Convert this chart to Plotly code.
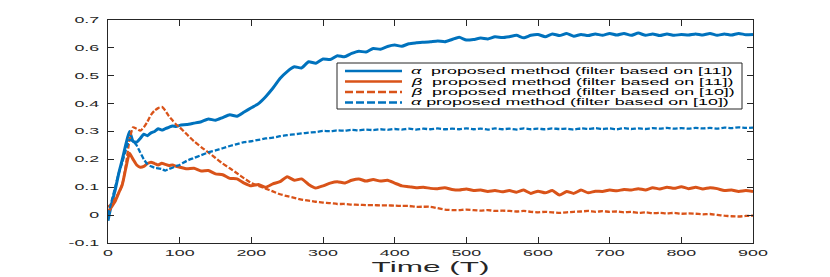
import plotly.graph_objects as go

# ---- data ----
T = list(range(0, 100, 5)) + list(range(100, 901, 10))

alpha_11 = [
    -0.02, 0.04, 0.09, 0.15, 0.20, 0.255, 0.30, 0.265, 0.262, 0.275,
    0.29, 0.285, 0.295, 0.30, 0.31, 0.305, 0.31, 0.315, 0.32, 0.318,
    0.322, 0.325, 0.33, 0.335, 0.345, 0.34, 0.35, 0.36, 0.355, 0.37,
    0.385, 0.40, 0.425, 0.455, 0.49, 0.515, 0.532, 0.528, 0.55, 0.545,
    0.56, 0.558, 0.572, 0.568, 0.58, 0.588, 0.585, 0.598, 0.595, 0.605,
    0.61, 0.606, 0.615, 0.618, 0.62, 0.622, 0.625, 0.622, 0.63, 0.638,
    0.628, 0.63, 0.635, 0.632, 0.64, 0.637, 0.64, 0.645, 0.636, 0.645,
    0.648, 0.64, 0.65, 0.644, 0.652, 0.642, 0.648, 0.644, 0.65, 0.645,
    0.652, 0.646, 0.652, 0.645, 0.653, 0.645, 0.65, 0.644, 0.65, 0.645,
    0.648, 0.646, 0.65, 0.646, 0.652, 0.645, 0.65, 0.646, 0.652, 0.647,
    0.648,
]

beta_11 = [
    0.01, 0.03, 0.05, 0.08, 0.11, 0.17, 0.222, 0.20, 0.18, 0.172,
    0.175, 0.185, 0.19, 0.185, 0.18, 0.186, 0.182, 0.178, 0.18, 0.175,
    0.172, 0.166, 0.168, 0.158, 0.16, 0.148, 0.145, 0.132, 0.13, 0.115,
    0.105, 0.11, 0.10, 0.112, 0.12, 0.138, 0.125, 0.13, 0.11, 0.097,
    0.105, 0.115, 0.12, 0.115, 0.125, 0.13, 0.122, 0.128, 0.122, 0.125,
    0.115, 0.105, 0.102, 0.098, 0.10, 0.096, 0.095, 0.098, 0.092, 0.09,
    0.094, 0.088, 0.09, 0.085, 0.088, 0.084, 0.088, 0.082, 0.09, 0.078,
    0.086, 0.08, 0.088, 0.072, 0.085, 0.078, 0.09, 0.08, 0.086, 0.085,
    0.09, 0.087, 0.092, 0.09, 0.095, 0.09, 0.098, 0.094, 0.10, 0.096,
    0.102, 0.095, 0.10, 0.094, 0.098, 0.095, 0.088, 0.09, 0.085, 0.088,
    0.085,
]

beta_10 = [
    0.03, 0.04, 0.06, 0.08, 0.11, 0.18, 0.27, 0.315, 0.31, 0.303,
    0.315, 0.335, 0.36, 0.375, 0.384, 0.388, 0.375, 0.355, 0.34, 0.325,
    0.315, 0.29, 0.265, 0.244, 0.225, 0.205, 0.185, 0.168, 0.15, 0.132,
    0.115, 0.105, 0.095, 0.085, 0.075, 0.068, 0.062, 0.056, 0.052, 0.048,
    0.045, 0.043, 0.04, 0.04, 0.038, 0.037, 0.036, 0.036, 0.035, 0.035,
    0.034, 0.033, 0.033, 0.03, 0.03, 0.03, 0.025, 0.02, 0.018, 0.018,
    0.02, 0.018, 0.016, 0.018, 0.015, 0.016, 0.015, 0.013, 0.015, 0.012,
    0.01, 0.012, 0.01, 0.008, 0.01, 0.012, 0.013, 0.015, 0.012, 0.014,
    0.012, 0.013, 0.01, 0.012, 0.008, 0.01, 0.007, 0.008, 0.006, 0.008,
    0.005, 0.006, 0.005, 0.003, 0.004, 0.001, -0.002, -0.004, -0.005, -0.003,
    -0.002,
]

alpha_10 = [
    0.0, 0.05, 0.10, 0.15, 0.19, 0.235, 0.27, 0.265, 0.25, 0.225,
    0.20, 0.183, 0.175, 0.17, 0.168, 0.165, 0.16, 0.166, 0.17, 0.176,
    0.18, 0.195, 0.205, 0.215, 0.225, 0.232, 0.24, 0.248, 0.255, 0.262,
    0.265, 0.27, 0.275, 0.278, 0.283, 0.287, 0.29, 0.293, 0.296, 0.298,
    0.302, 0.301, 0.304, 0.303, 0.306, 0.304, 0.307, 0.305, 0.308, 0.306,
    0.309, 0.307, 0.31, 0.307, 0.31, 0.308, 0.311, 0.308, 0.31, 0.308,
    0.311, 0.308, 0.31, 0.307, 0.311, 0.308, 0.31, 0.307, 0.311, 0.308,
    0.31, 0.308, 0.311, 0.309, 0.31, 0.307, 0.311, 0.309, 0.312, 0.309,
    0.311, 0.308, 0.312, 0.309, 0.311, 0.309, 0.312, 0.31, 0.313, 0.31,
    0.312, 0.31, 0.313, 0.311, 0.313, 0.31, 0.314, 0.312, 0.315, 0.313,
    0.314,
]

legend_labels = [
    "<i>α</i>  proposed method (filter based on [11])",
    "<i>β</i>  proposed method (filter based on [11])",
    "<i>β</i>  proposed method (filter based on [10])",
    "<i>α</i> proposed method (filter based on [10])",
]

x_ticks = [0, 100, 200, 300, 400, 500, 600, 700, 800, 900]
y_ticks = [-0.1, 0, 0.1, 0.2, 0.3, 0.4, 0.5, 0.6, 0.7]
y_tick_text = ["-0.1", "0", "0.1", "0.2", "0.3", "0.4", "0.5", "0.6", "0.7"]

# ---- styles ----
BLUE = "#0072BD"
ORANGE = "#D95319"
AX = "#262626"
FONT = "Liberation Sans, Arial, sans-serif"

series = [
    (alpha_11, BLUE, "solid", 3),
    (beta_11, ORANGE, "solid", 3),
    (beta_10, ORANGE, "5px,2px", 2.3),
    (alpha_10, BLUE, "5px,2px", 2.3),
]

fig = go.Figure()
for (vals, color, dash, w), name in zip(series, legend_labels):
    fig.add_trace(go.Scatter(
        x=T, y=vals, mode="lines", name=name, showlegend=False,
        line=dict(color=color, width=w, dash=dash, shape="spline", smoothing=0.5),
        hoverinfo="skip",
    ))

# ---- geometry (page body adds an 8px offset) ----
OFF = 8
W, H = 830 - OFF, 277 - OFF
L, TOP = 108 - OFF, 20 - OFF
pw, ph = 645, 223
R = W - L - pw
BOT = H - TOP - ph


def px(xp):
    return (xp - OFF - L) / pw


def py(yp):
    return (TOP + ph - (yp - OFF)) / ph


# ---- custom compact legend (MATLAB style) ----
shapes = [dict(type="rect", xref="paper", yref="paper",
               x0=px(337), x1=px(742), y0=py(109), y1=py(63),
               line=dict(color=AX, width=1), fillcolor="white", layer="above")]
annotations = []
rows = [71, 81.5, 92, 102.5]
leg_dash = {"solid": "solid", "5px,2px": "8px,3px"}
for (vals, color, dash, w), name, ry in zip(series, legend_labels, rows):
    shapes.append(dict(type="line", xref="paper", yref="paper",
                       x0=px(345), x1=px(402), y0=py(ry), y1=py(ry),
                       line=dict(color=color, width=2.4, dash=leg_dash[dash]), layer="above"))
    annotations.append(dict(xref="paper", yref="paper", x=px(409), y=py(ry),
                            xanchor="left", yanchor="middle", align="left",
                            text=name, showarrow=False,
                            font=dict(family=FONT, size=8.5, color="#000000")))

fig.update_layout(
    template="none",
    width=W, height=H,
    margin=dict(l=L, r=R, t=TOP, b=BOT, pad=0),
    paper_bgcolor="white", plot_bgcolor="white",
    font=dict(family=FONT, size=8.5, color=AX),
    shapes=shapes, annotations=annotations,
    showlegend=False,
    xaxis=dict(range=[0, 900], tickvals=x_ticks, ticks="inside", ticklen=6,
               tickcolor=AX, showline=True, linecolor=AX, linewidth=1,
               mirror="ticks", showgrid=False, zeroline=False,
               ticklabelstandoff=2,
               tickfont=dict(family=FONT, size=8.5, color=AX),
               title=dict(text="Time (T)", standoff=4,
                          font=dict(family=FONT, size=15, color=AX))),
    yaxis=dict(range=[-0.1, 0.7], tickvals=y_ticks, ticktext=y_tick_text,
               ticks="inside", ticklen=6, tickcolor=AX, showline=True,
               linecolor=AX, linewidth=1, mirror="ticks", showgrid=False,
               zeroline=False, ticklabelstandoff=6,
               tickfont=dict(family=FONT, size=8.5, color=AX)),
)

# The reference text is rendered horizontally stretched; keep real SVG text but widen it.
post = """
var gd = document.getElementById('{plot_id}');
var k = 2.1;
gd.querySelectorAll('svg text').forEach(function(t){
  var w = t.getComputedTextLength();
  if (w > 0) { t.setAttribute('textLength', (w*k).toFixed(2)); t.setAttribute('lengthAdjust', 'spacingAndGlyphs'); }
});
"""

fig.write_html("out.html", post_script=post, config={"displayModeBar": False})
